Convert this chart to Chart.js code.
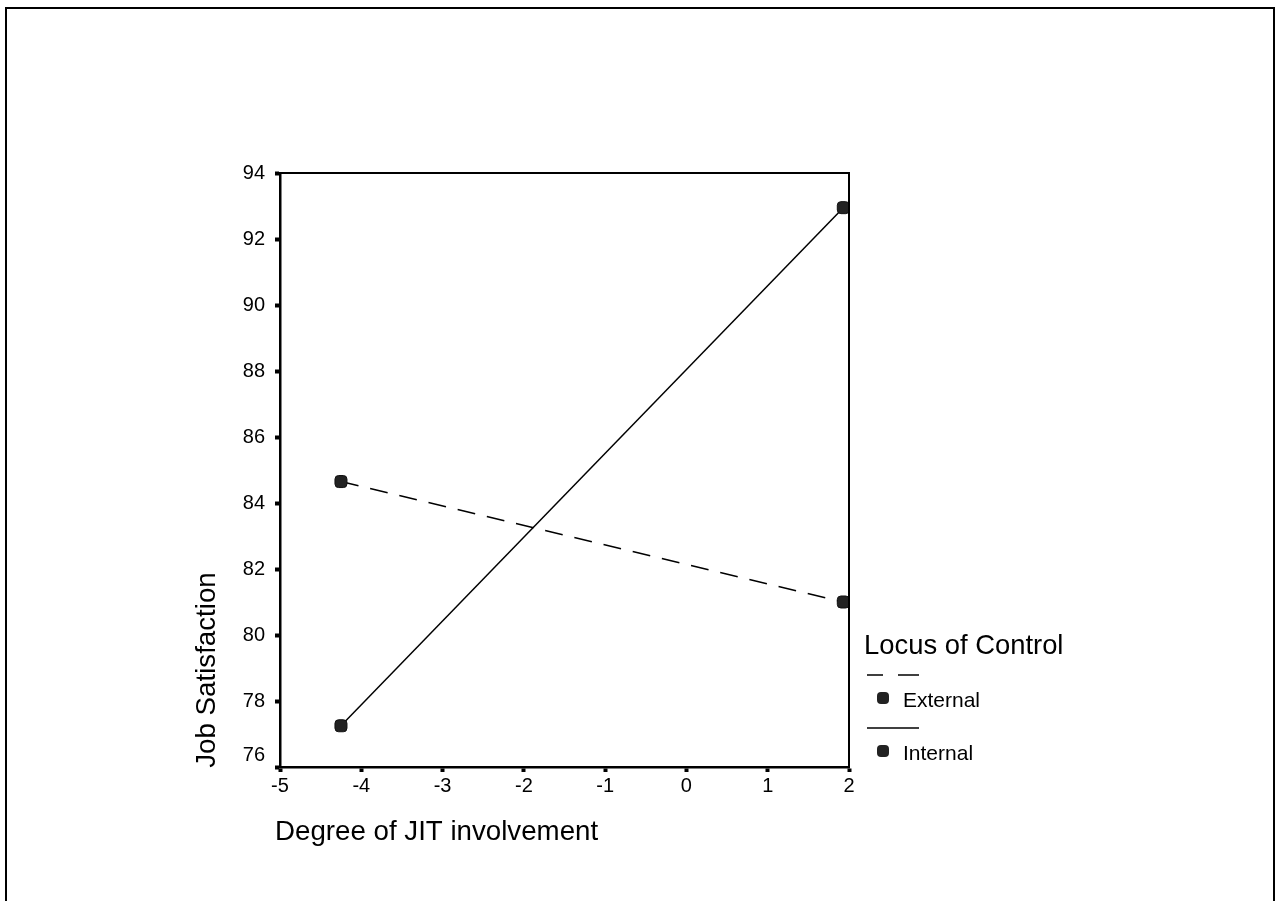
<!DOCTYPE html>
<html>
<head>
<meta charset="utf-8">
<title>Job Satisfaction by JIT involvement</title>
<script src="https://cdn.jsdelivr.net/npm/chart.js@4/dist/chart.umd.min.js"></script>
<style>
  html, body { margin: 0; padding: 0; background: #fff; }
  canvas { display: block; }
</style>
</head>
<body>
<canvas id="chart" width="1277" height="901"></canvas>
<script>
// --- DATA ---
const jitLevels = [-4.25, 1.93];
const externalScores = [84.65, 81.0];
const internalScores = [77.25, 92.95];
const seriesNames = ['External', 'Internal'];
const legendTitle = 'Locus of Control';
const xTitle = 'Degree of JIT involvement';
const yTitle = 'Job Satisfaction';

const FONT = "'Liberation Sans', Arial, sans-serif";

const toPoints = (ys) => jitLevels.map((x, i) => ({ x: x, y: ys[i] }));

// frame around plot area + page border + titles + legend
const decorations = {
    id: 'decorations',
    afterDraw(chart) {
        const ctx = chart.ctx;
        const a = chart.chartArea;
        ctx.save();

        // page border (left, top, right)
        ctx.strokeStyle = '#000';
        ctx.lineWidth = 2;
        ctx.beginPath();
        ctx.moveTo(6, 901);
        ctx.lineTo(6, 8);
        ctx.lineTo(1274, 8);
        ctx.lineTo(1274, 901);
        ctx.stroke();

        // box round the plot
        ctx.strokeRect(a.left, a.top, a.right - a.left, a.bottom - a.top);

        // axis titles
        ctx.fillStyle = '#000';
        ctx.font = '27.7px ' + FONT;
        ctx.textBaseline = 'middle';
        ctx.textAlign = 'left';
        ctx.fillText(xTitle, 275, 832);

        ctx.save();
        ctx.translate(207, 670);
        ctx.rotate(-Math.PI / 2);
        ctx.textAlign = 'center';
        ctx.fillText(yTitle, 0, 0);
        ctx.restore();

        // legend
        ctx.font = '27.4px ' + FONT;
        ctx.textAlign = 'left';
        ctx.fillText(legendTitle, 864, 646);

        const rows = [675, 728];
        const legendDash = [[16, 15, 21, 100], []];
        chart.data.datasets.forEach((ds, i) => {
            const ly = rows[i];
            ctx.strokeStyle = '#000';
            ctx.lineWidth = 1.5;
            ctx.setLineDash(legendDash[i]);
            ctx.beginPath();
            ctx.moveTo(867, ly);
            ctx.lineTo(919, ly);
            ctx.stroke();
            ctx.setLineDash([]);

            // marker
            ctx.fillStyle = '#222';
            ctx.beginPath();
            ctx.roundRect(877, ly + 17, 12, 12, 4);
            ctx.fill();

            ctx.fillStyle = '#000';
            ctx.font = '21px ' + FONT;
            ctx.fillText(ds.label, 903, ly + 26);
        });
        ctx.restore();
    }
};

const ctx = document.getElementById('chart').getContext('2d');

new Chart(ctx, {
    type: 'scatter',
    data: {
        datasets: [
            {
                label: seriesNames[0],
                data: toPoints(externalScores),
                showLine: true,
                borderColor: '#000',
                borderWidth: 1.5,
                borderDash: [18, 12],
                pointStyle: 'rectRounded',
                pointRadius: 7,
                pointBackgroundColor: '#222',
                pointBorderColor: '#111',
                pointBorderWidth: 1
            },
            {
                label: seriesNames[1],
                data: toPoints(internalScores),
                showLine: true,
                borderColor: '#000',
                borderWidth: 1.5,
                pointStyle: 'rectRounded',
                pointRadius: 7,
                pointBackgroundColor: '#222',
                pointBorderColor: '#111',
                pointBorderWidth: 1
            }
        ]
    },
    options: {
        responsive: false,
        animation: false,
        layout: {
            padding: { left: 220, top: 173, right: 428, bottom: 94 }
        },
        plugins: {
            legend: { display: false },
            tooltip: { enabled: false }
        },
        scales: {
            x: {
                type: 'linear',
                min: -5,
                max: 2,
                afterFit(scale) { scale.height = 40; },
                ticks: {
                    stepSize: 1,
                    color: '#000',
                    padding: 2,
                    font: { family: FONT, size: 20 }
                },
                grid: {
                    drawOnChartArea: false,
                    tickLength: 5,
                    tickWidth: 4,
                    tickColor: '#000'
                },
                border: { color: '#000', width: 2.5 }
            },
            y: {
                min: 76,
                max: 94,
                afterFit(scale) { scale.width = 60; },
                ticks: {
                    stepSize: 2,
                    color: '#000',
                    padding: 10,
                    font: { family: FONT, size: 20 },
                    // lowest label sits a little above its tick, clear of the x labels
                    callback: (v) => (v === 76 ? ['76', ''] : String(v))
                },
                grid: {
                    drawOnChartArea: false,
                    tickLength: 5,
                    tickWidth: 4,
                    tickColor: '#000'
                },
                border: { color: '#000', width: 2.5 }
            }
        }
    },
    plugins: [decorations]
});
</script>
</body>
</html>
